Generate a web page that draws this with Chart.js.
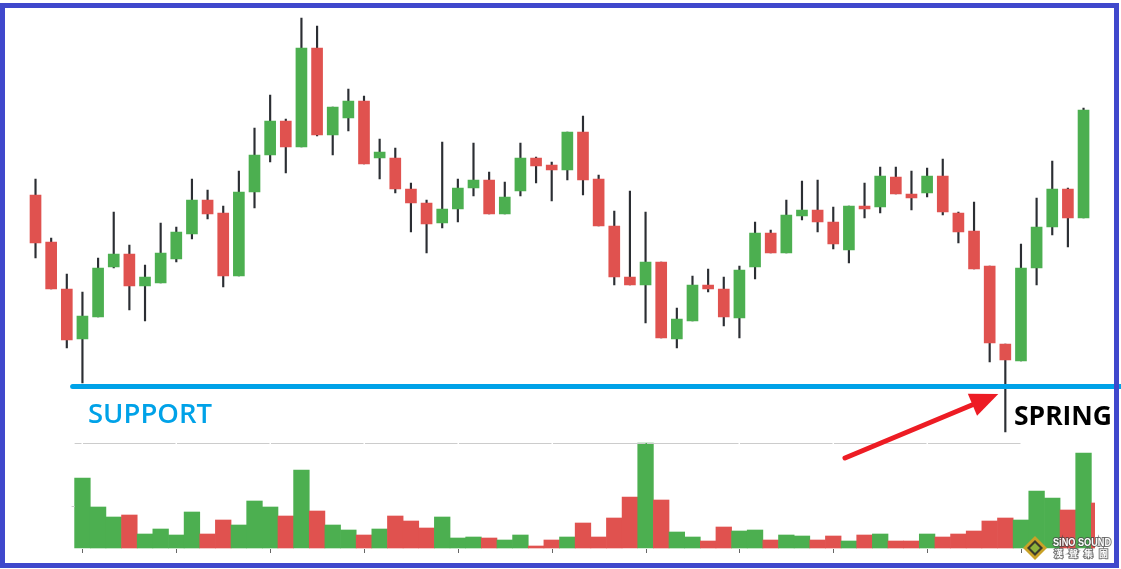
<!DOCTYPE html>
<html>
<head>
<meta charset="utf-8">
<script src="https://cdn.jsdelivr.net/npm/chart.js@4.4.1/dist/chart.umd.min.js"></script>
<style>
  html, body { margin: 0; padding: 0; background: #fff; }
  #wrap { width: 1121px; height: 569px; }
</style>
</head>
<body>
<div id="wrap"><canvas id="chart" width="1121" height="569"></canvas></div>
<script>
// price candles (68 sessions)
const openP  = [17.65,15.30,12.95,10.45,11.55,14.05,14.70,13.10,13.25,14.45,15.70,17.40,16.75,13.60,17.80,19.65,21.35,20.05,25.00,20.65,
                21.50,22.35,19.50,19.50,17.95,17.25,16.25,16.95,18.00,18.40,16.70,17.85,19.50,19.15,18.90,20.80,18.45,16.10,13.55,13.15,
                14.30,10.45,11.35,13.15,12.95,11.50,14.05,15.75,14.75,16.60,16.90,16.30,14.90,17.10,17.05,18.55,17.70,17.75,18.60,16.75,
                15.85,14.10,10.20, 9.35,14.00,16.05,17.95,16.50];
const highP  = [18.45,15.50,13.70,12.80,14.50,16.80,15.15,14.15,16.25,16.05,18.45,17.90,17.10,18.85,21.00,22.65,21.45,26.50,26.10,22.05,
                22.95,22.60,20.45,20.00,18.25,17.40,20.30,18.45,20.25,18.80,18.30,20.25,19.55,19.30,20.80,21.60,18.65,16.85,17.85,16.80,
                14.30,12.00,13.60,13.95,13.55,14.10,16.30,15.90,17.40,18.35,18.40,17.05,17.10,18.25,19.05,19.05,18.85,19.00,19.45,16.80,
                17.30,14.10,10.20,15.20,17.50,19.35,18.00,22.00];
const lowP   = [14.50,12.95,10.00, 8.25,11.55,14.00,11.90,11.35,13.25,14.30,15.45,16.45,13.05,13.60,17.00,19.30,18.75,20.05,20.60,19.65,
                20.85,19.20,18.45,17.75,15.80,14.75,16.00,16.30,17.60,16.70,16.70,17.60,18.25,17.35,18.40,17.65,16.10,13.15,13.15,11.25,
                10.50,10.00,11.35,12.80,11.10,10.50,13.45,14.75,14.75,16.40,15.80,14.95,14.25,16.50,16.75,17.70,16.90,17.55,16.65,15.25,
                13.95, 9.30, 5.80, 9.35,13.15,15.65,15.05,16.50];
const closeP = [15.25,12.95,10.40,11.60,14.00,14.70,13.10,13.55,14.75,15.80,17.40,16.70,13.60,17.80,19.65,21.35,20.05,25.00,20.65,22.05,
                22.35,19.20,19.80,17.95,17.25,16.20,16.95,18.00,18.40,16.70,17.55,19.50,19.10,18.90,20.80,18.40,16.10,13.55,13.15,14.30,
                10.50,11.45,13.15,12.95,11.55,13.90,15.75,14.75,16.65,16.90,16.30,15.20,17.10,16.95,18.60,17.70,17.50,18.60,16.80,15.80,
                13.95,10.25, 9.40,14.00,16.05,17.95,16.50,21.90];

// volume in thousands (pane starts at session 4, one cropped bar after the last candle)
const volume = [null,null,null,1400, 820, 620, 660, 280, 380, 260, 720, 280, 560, 460, 940, 820, 640,1560, 740, 460,
                 360, 260, 380, 640, 540, 400, 620, 200, 220, 200, 160, 260,  40, 160, 220, 500, 220, 600,1020,2100,
                 960, 320, 220, 140, 420, 340, 360, 160, 260, 240, 160, 240, 140, 260, 280, 140, 140, 280, 220, 280,
                 340, 540, 600, 560,1140,1000, 760,1900, 900];

const sessions = volume.map((v, i) => 'D' + (i + 1));

const supportLevel = 8.075;
const volGridLevel = 2100;
const volTickLevel = 840;
const tickEvery = 6, firstTick = 3, lastTick = 63;

const GREEN = '#4caf50', RED = '#e0524f', WICK = '#2b2e33';

const bodyColors = openP.map((o, i) => closeP[i] >= o ? GREEN : RED);
const volColors = volume.map((v, i) => (closeP[i] !== undefined && closeP[i] >= openP[i]) ? GREEN : RED);

// draw text squeezed/stretched to a given width
function fitText(ctx, text, x, y, width, stroke) {
    const w = ctx.measureText(text).width;
    ctx.save();
    ctx.translate(x, y);
    ctx.scale(width / w, 1);
    if (stroke) ctx.strokeText(text, 0, 0);
    ctx.fillText(text, 0, 0);
    ctx.restore();
}

const marks = {
    id: 'marks',
    afterDatasetsDraw(chart) {
        const ctx = chart.ctx;
        const x = chart.scales.x, y = chart.scales.y, yv = chart.scales.yv;
        const half = (x.getPixelForValue(1) - x.getPixelForValue(0)) / 2;
        ctx.save();

        // grid line on top of the volume pane, broken at tick positions
        const gy = Math.round(yv.getPixelForValue(volGridLevel)) + 0.5;
        ctx.strokeStyle = '#cccccc';
        ctx.lineWidth = 1;
        let start = x.getPixelForValue(firstTick) - half;
        for (let t = firstTick; t <= lastTick; t += tickEvery) {
            const tx = Math.round(x.getPixelForValue(t));
            ctx.beginPath();
            ctx.moveTo(start, gy);
            ctx.lineTo(tx - 0.5, gy);
            ctx.stroke();
            start = tx + 1;
        }

        // x ticks under the volume pane
        ctx.strokeStyle = '#666666';
        for (let t = firstTick; t <= lastTick; t += tickEvery) {
            const tx = Math.round(x.getPixelForValue(t)) + 0.5;
            ctx.beginPath();
            ctx.moveTo(tx, y.bottom + 1);
            ctx.lineTo(tx, y.bottom + 5);
            ctx.stroke();
        }
        // small volume axis tick
        const vy = Math.round(yv.getPixelForValue(volTickLevel)) + 0.5;
        ctx.strokeStyle = '#cccccc';
        ctx.beginPath();
        ctx.moveTo(x.getPixelForValue(firstTick) - half - 3, vy);
        ctx.lineTo(x.getPixelForValue(firstTick) - half, vy);
        ctx.stroke();

        // support line
        const sy = y.getPixelForValue(supportLevel);
        ctx.strokeStyle = '#00a2e8';
        ctx.lineWidth = 5;
        ctx.lineCap = 'round';
        ctx.beginPath();
        ctx.moveTo(x.getPixelForValue(firstTick) - half - 2, sy);
        ctx.lineTo(1130, sy);
        ctx.stroke();

        // labels
        ctx.textBaseline = 'alphabetic';
        ctx.fillStyle = '#00a2e8';
        ctx.font = '600 27px "Open Sans"';
        fitText(ctx, 'SUPPORT', 88, sy + 36.5, 124);
        ctx.fillStyle = '#000000';
        ctx.font = 'bold 27px "Open Sans"';
        fitText(ctx, 'SPRING', 1014, sy + 38.5, 98);

        // red arrow pointing at the spring
        const tail = {x: x.getPixelForValue(51.75), y: y.getPixelForValue(4.5)};
        const tip = {x: x.getPixelForValue(61.55), y: y.getPixelForValue(7.7)};
        const dx = tip.x - tail.x, dy = tip.y - tail.y, len = Math.hypot(dx, dy);
        const ux = dx / len, uy = dy / len, nx = -uy, ny = ux;
        const hl = 28, hw = 12;
        ctx.strokeStyle = '#ed1c24';
        ctx.fillStyle = '#ed1c24';
        ctx.lineWidth = 5;
        ctx.beginPath();
        ctx.moveTo(tail.x, tail.y);
        ctx.lineTo(tip.x - ux * (hl - 4), tip.y - uy * (hl - 4));
        ctx.stroke();
        ctx.beginPath();
        ctx.moveTo(tip.x, tip.y);
        ctx.lineTo(tip.x - ux * hl + nx * hw, tip.y - uy * hl + ny * hw);
        ctx.lineTo(tip.x - ux * hl - nx * hw, tip.y - uy * hl - ny * hw);
        ctx.closePath();
        ctx.fill();

        ctx.restore();
    },
    afterDraw(chart) {
        const ctx = chart.ctx;
        ctx.save();
        // watermark
        const cx = 1035, cy = 548;
        ctx.fillStyle = '#c9a227';
        ctx.beginPath();
        ctx.moveTo(cx, cy - 12); ctx.lineTo(cx + 12, cy); ctx.lineTo(cx, cy + 12); ctx.lineTo(cx - 12, cy); ctx.closePath();
        ctx.fill();
        ctx.fillStyle = '#3b3b2a';
        ctx.beginPath();
        ctx.moveTo(cx, cy - 8); ctx.lineTo(cx + 8, cy); ctx.lineTo(cx, cy + 8); ctx.lineTo(cx - 8, cy); ctx.closePath();
        ctx.fill();
        ctx.fillStyle = '#8db33a';
        ctx.beginPath();
        ctx.moveTo(cx, cy - 5); ctx.lineTo(cx + 5, cy); ctx.lineTo(cx, cy + 5); ctx.lineTo(cx - 5, cy); ctx.closePath();
        ctx.fill();
        ctx.font = 'bold 10px "Liberation Sans"';
        ctx.lineWidth = 2;
        ctx.strokeStyle = 'rgba(70,70,70,0.75)';
        ctx.fillStyle = '#ffffff';
        fitText(ctx, 'SiNO SOUND', 1053, 546, 58, true);
        ctx.font = 'bold 9px "Noto Sans CJK TC"';
        const cjk = ['漢', '聲', '集', '團'];
        cjk.forEach((ch, i) => {
            ctx.strokeText(ch, 1054 + i * 15, 557);
            ctx.fillText(ch, 1054 + i * 15, 557);
        });

        // frame
        ctx.strokeStyle = '#3f48cc';
        ctx.lineWidth = 5;
        ctx.strokeRect(2.5, 5.5, 1114, 560);
        ctx.restore();
    }
};

new Chart(document.getElementById('chart'), {
    type: 'bar',
    data: {
        labels: sessions,
        datasets: [{
            label: 'Body',
            data: openP.map((o, i) => [o, closeP[i]]),
            backgroundColor: bodyColors,
            barThickness: 11,
            grouped: false,
            yAxisID: 'y',
            order: 1
        }, {
            label: 'Wick',
            data: openP.map((o, i) => [lowP[i], highP[i]]),
            backgroundColor: WICK,
            barThickness: 1.5,
            grouped: false,
            yAxisID: 'y',
            order: 2
        }, {
            label: 'Volume',
            data: volume,
            backgroundColor: volColors,
            barPercentage: 1,
            categoryPercentage: 1,
            grouped: false,
            yAxisID: 'yv',
            order: 3,
            clip: {left: false, top: false, right: -12, bottom: false}
        }]
    },
    options: {
        responsive: false,
        animation: false,
        devicePixelRatio: 1,
        layout: { padding: { left: 27.7, right: 14, top: 0, bottom: 21 } },
        plugins: { legend: { display: false }, tooltip: { enabled: false } },
        scales: {
            x: { display: false, offset: true },
            y: { display: false, min: 0, max: 27.4 },
            yv: { display: false, min: 0, max: 10960 }
        }
    },
    plugins: [marks]
});
</script>
</body>
</html>
